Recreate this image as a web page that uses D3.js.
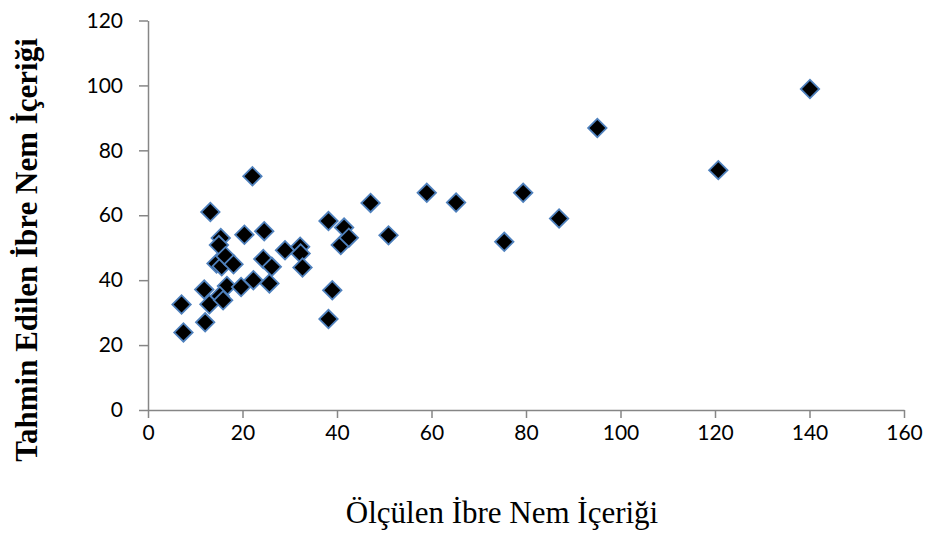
<!DOCTYPE html>
<html>
<head>
<meta charset="utf-8">
<script src="https://cdn.jsdelivr.net/npm/d3@7"></script>
<style>
  html, body { margin: 0; padding: 0; background: #fff; }
  svg { display: block; }
</style>
</head>
<body>
<svg id="chart" width="925" height="533"></svg>
<script>
// Measured needle moisture content (x) vs. predicted needle moisture content (y)
const measured = [7.1, 7.5, 11.9, 12.1, 13.0, 13.2, 15.4, 15.0, 14.5, 15.6, 16.4, 18.1, 16.7, 15.2, 15.9,
  19.7, 20.4, 22.1, 22.3, 24.6, 24.4, 26.2, 25.7, 29.0, 32.2, 32.3, 32.7, 38.2, 38.2, 39.0,
  40.8, 41.5, 42.5, 47.1, 50.9, 59.0, 65.2, 75.4, 79.4, 87.0, 95.1, 120.7, 140.1];
const predicted = [32.5, 23.9, 37.1, 27.0, 32.6, 61.0, 53.0, 50.8, 45.1, 44.3, 47.4, 44.9, 38.2, 35.1, 33.8,
  37.9, 54.0, 72.0, 40.0, 55.1, 46.5, 44.1, 39.0, 49.2, 50.3, 48.2, 43.9, 58.2, 28.0, 36.9,
  50.8, 56.2, 53.1, 63.8, 53.8, 66.9, 63.9, 51.8, 66.9, 59.0, 86.9, 73.9, 98.9];
const xTicks = [0, 20, 40, 60, 80, 100, 120, 140, 160];
const yTicks = [0, 20, 40, 60, 80, 100, 120];
const xTitle = "Ölçülen İbre Nem İçeriği";
const yTitle = "Tahmin Edilen İbre Nem İçeriği";

const svg = d3.select("#chart");
const margin = { left: 148, right: 21, top: 20.5, bottom: 123 };
const W = 925, H = 533;

const x = d3.scaleLinear().domain([0, 160]).range([margin.left, W - margin.right]);
const y = d3.scaleLinear().domain([0, 120]).range([H - margin.bottom, margin.top]);

const axisColor = "#868686";
const tickFont = "Lato, 'Open Sans', sans-serif";

// X axis
const gx = svg.append("g")
  .attr("transform", `translate(0,${y(0)})`)
  .call(d3.axisBottom(x).tickValues(xTicks).tickSize(8).tickSizeOuter(0));
gx.select(".domain").attr("stroke", axisColor).attr("stroke-width", 1.5);
gx.selectAll(".tick line").attr("stroke", axisColor).attr("stroke-width", 1.5);
gx.selectAll(".tick text")
  .attr("y", 30).attr("dy", 0)
  .attr("fill", "#000")
  .style("font-family", tickFont).style("font-size", "21px");

// Y axis
const gy = svg.append("g")
  .attr("transform", `translate(${x(0)},0)`)
  .call(d3.axisLeft(y).tickValues(yTicks).tickSize(9).tickPadding(16).tickSizeOuter(0));
gy.select(".domain").attr("stroke", axisColor).attr("stroke-width", 1.5);
gy.selectAll(".tick line").attr("stroke", axisColor).attr("stroke-width", 1.5);
gy.selectAll(".tick text")
  .attr("fill", "#000")
  .style("font-family", tickFont).style("font-size", "21px");

// Points as diamond markers
const diamond = d3.symbol().type(d3.symbolSquare).size(170);
svg.append("g")
  .selectAll("path")
  .data(measured.map((m, i) => [m, predicted[i]]))
  .join("path")
  .attr("d", diamond)
  .attr("transform", d => `translate(${x(d[0])},${y(d[1])}) rotate(45)`)
  .attr("fill", "#000")
  .attr("stroke", "#4f81bd")
  .attr("stroke-width", 1.8);

// Axis titles
svg.append("text")
  .attr("x", 502).attr("y", 523)
  .attr("text-anchor", "middle")
  .style("font-family", "'Liberation Serif', 'Times New Roman', serif")
  .style("font-size", "31px")
  .text(xTitle);

svg.append("text")
  .attr("transform", `translate(37,250) rotate(-90)`)
  .attr("text-anchor", "middle")
  .style("font-family", "'Liberation Serif', 'Times New Roman', serif")
  .style("font-weight", "bold")
  .style("font-size", "31px")
  .text(yTitle);
</script>
</body>
</html>
